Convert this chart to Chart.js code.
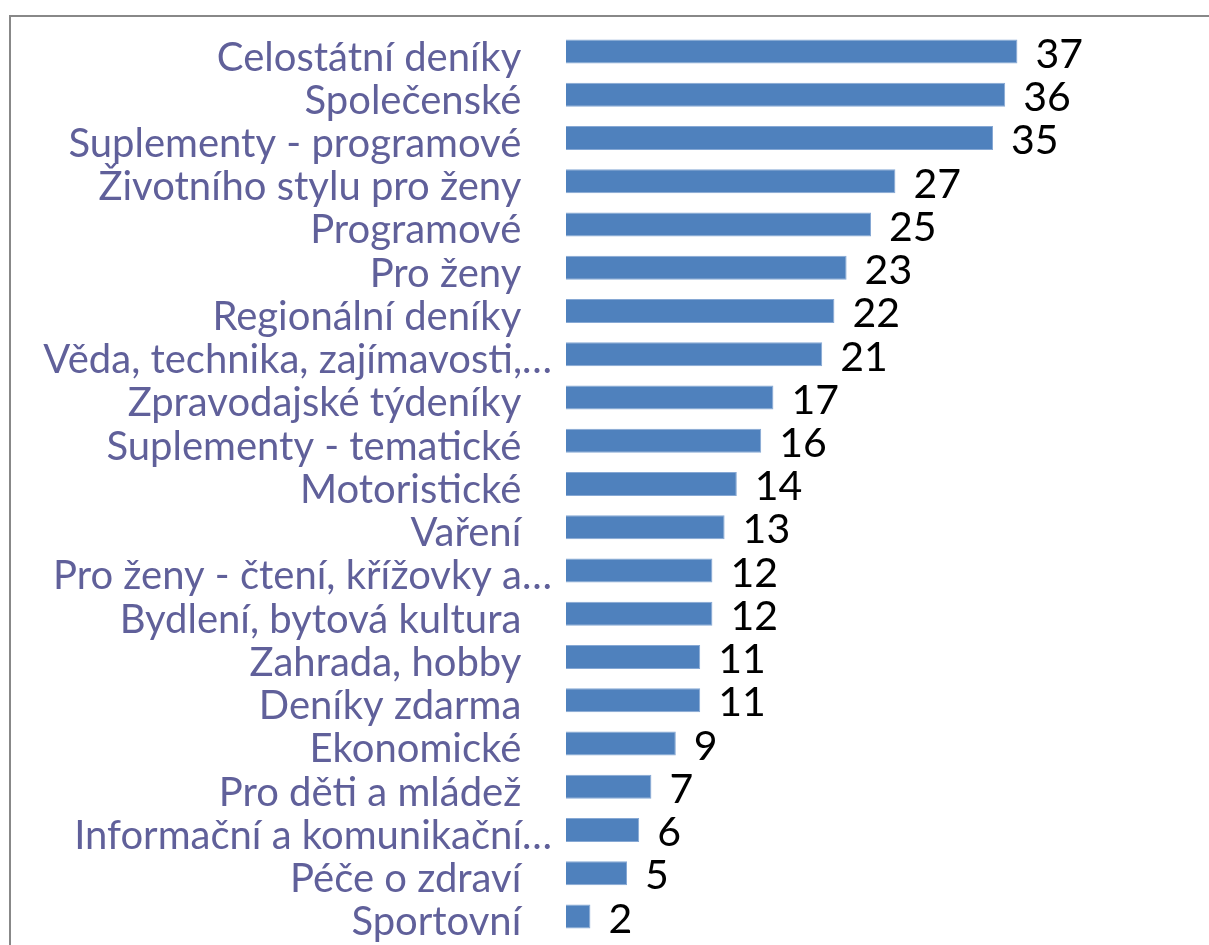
<!DOCTYPE html>
<html>
<head>
<meta charset="utf-8">
<script src="https://cdn.jsdelivr.net/npm/chart.js@4/dist/chart.umd.min.js"></script>
<style>
    body { margin: 0; background: #fff; overflow: hidden; }
    #frame {
        position: absolute; left: 9px; top: 15px; width: 1400px; height: 1100px;
        border-left: 2px solid #888; border-top: 2px solid #888;
    }
    #myChart { position: absolute; left: 0; top: 0; }
</style>
</head>
<body>
<div id="frame"></div>
<canvas id="myChart" width="1209" height="945"></canvas>
<script>
var categories = [
    'Celostátní deníky', 'Společenské', 'Suplementy - programové', 'Životního stylu pro ženy',
    'Programové', 'Pro ženy', 'Regionální deníky', 'Věda, technika, zajímavosti,…',
    'Zpravodajské týdeníky', 'Suplementy - tematické', 'Motoristické', 'Vaření',
    'Pro ženy - čtení, křížovky a…', 'Bydlení, bytová kultura', 'Zahrada, hobby', 'Deníky zdarma',
    'Ekonomické', 'Pro děti a mládež', 'Informační a komunikační…', 'Péče o zdraví', 'Sportovní'
];
var values = [37, 36, 35, 27, 25, 23, 22, 21, 17, 16, 14, 13, 12, 12, 11, 11, 9, 7, 6, 5, 2];
var xTicks = [0, 40];

// value labels to the right of each bar
var barLabels = {
    id: 'barLabels',
    afterDatasetsDraw: function(chart) {
        var ctx = chart.ctx;
        var meta = chart.getDatasetMeta(0);
        ctx.save();
        ctx.font = '41px Lato';
        ctx.fillStyle = '#000';
        ctx.textAlign = 'left';
        ctx.textBaseline = 'middle';
        meta.data.forEach(function(bar, i) {
            ctx.fillText(String(values[i]), bar.x + 18, bar.y + 3);
        });
        ctx.restore();
    }
};

var ctx = document.getElementById('myChart').getContext('2d');
var myChart = new Chart(ctx, {
    type: 'bar',
    data: {
        labels: categories,
        datasets: [{
            data: values,
            backgroundColor: '#4F81BD',
            borderColor: '#86A8D4',
            borderWidth: 1,
            categoryPercentage: 1,
            barPercentage: 0.555
        }]
    },
    options: {
        indexAxis: 'y',
        responsive: false,
        animation: false,
        layout: { padding: { top: 30, bottom: 7, left: 0, right: 155 } },
        plugins: {
            legend: { display: false },
            tooltip: { enabled: false }
        },
        scales: {
            x: {
                display: false,
                min: xTicks[0],
                max: xTicks[1]
            },
            y: {
                grid: { display: false, drawTicks: false },
                border: { display: false },
                afterFit: function(scale) {
                    scale.width = 566;
                    scale.paddingTop = 0;
                    scale.paddingBottom = 0;
                },
                ticks: {
                    autoSkip: false,
                    padding: 14,
                    labelOffset: 6,
                    color: '#60609A',
                    font: { family: 'Lato', size: 40 },
                    callback: function(v, i) {
                        var s = categories[i];
                        return s.endsWith('…') ? s : s + '   ';
                    }
                }
            }
        }
    },
    plugins: [barLabels]
});
</script>
</body>
</html>
